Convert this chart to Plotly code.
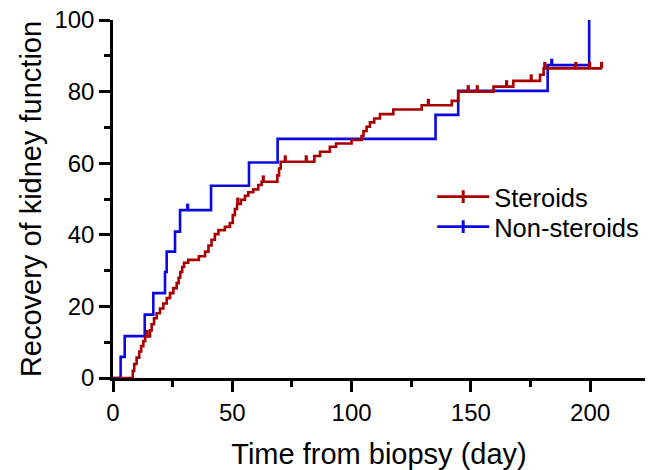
import numpy as np
import plotly.graph_objects as go

# Steroids (red) step times and cumulative recovery (%) after each step
ster_t = [8.3, 8.9, 9.9, 11.0, 11.8, 12.7, 13.5, 15.5, 16.2, 17.2, 18.3, 19.7, 21.1, 22.5,
          23.9, 25.3, 26.7, 27.5, 28.2, 29.0, 29.8, 31.5, 36.0, 38.6, 40.0, 41.3, 42.7,
          44.2, 46.9, 49.0, 50.2, 51.1, 52.0, 53.6, 55.3, 56.7, 58.8, 60.9, 62.3, 68.9,
          69.6, 70.3, 84.4, 86.8, 90.9, 93.5, 100.0, 104.2, 105.0, 106.3, 107.7, 109.5,
          111.9, 117.5, 129.4, 142.0, 144.7, 159.5, 167.8, 179.0, 180.5]
ster_v = [2.0, 3.9, 5.7, 7.4, 8.9, 10.3, 11.6, 13.3, 15.0, 16.7, 18.1, 19.4, 20.8, 22.3,
          23.7, 25.1, 26.5, 28.0, 29.6, 31.0, 32.2, 33.0, 34.0, 35.3, 37.0, 38.6, 40.2,
          41.3, 42.2, 43.3, 45.5, 47.2, 48.6, 49.8, 50.9, 51.9, 52.7, 53.9, 54.8, 56.6,
          58.5, 60.4, 62.0, 63.2, 64.6, 65.5, 66.5, 67.6, 69.0, 70.2, 71.4, 72.5,
          73.7, 75.0, 76.2, 77.4, 80.0, 81.4, 83.0, 84.7, 86.5]
ster_end = 205.0
ster_censor = [14.3, 52.3, 63.0, 72.2, 81.0, 132.2, 148.9, 152.7, 165.0, 175.3, 181.0,
               194.0, 199.8, 204.8]

# Non-steroids (blue)
non_t = [3.2, 4.9, 13.3, 16.9, 21.8, 22.5, 26.0, 28.1, 41.1, 57.0, 69.0, 135.2, 144.7,
         182.2, 199.6]
non_v = [5.9, 11.7, 17.7, 23.7, 29.6, 35.3, 40.9, 46.9, 53.7, 60.2, 66.8, 73.5, 80.2,
         87.4, 100.0]
non_end = 199.6
non_censor = [31.3, 183.9]

x_ticks = [0, 50, 100, 150, 200]
y_ticks = [0, 20, 40, 60, 80, 100]

RED = "#A80000"
BLUE = "#0A0ADC"
FONT = "Arial, Liberation Sans, sans-serif"


def step_xy(t, v, end):
    xs = [0.0] + list(t)
    ys = [0.0] + list(v)
    if end > xs[-1]:
        xs.append(end)
        ys.append(ys[-1])
    return xs, ys


def censor_xy(t, v, cens, h=1.8):
    t = np.asarray(t)
    v = np.asarray(v)
    xs, ys = [], []
    for c in cens:
        i = np.searchsorted(t, c, side="right")
        yv = 0.0 if i == 0 else float(v[i - 1])
        xs += [c, c, None]
        ys += [yv, yv + h, None]
    return xs, ys


fig = go.Figure()

for t, v, end, cens, col in [
    (non_t, non_v, non_end, non_censor, BLUE),
    (ster_t, ster_v, ster_end, ster_censor, RED),
]:
    xs, ys = step_xy(t, v, end)
    fig.add_trace(go.Scatter(x=xs, y=ys, mode="lines", line=dict(color=col, width=2.6, shape="hv"),
                             showlegend=False, cliponaxis=False, hoverinfo="skip"))
    cx, cy = censor_xy(t, v, cens)
    fig.add_trace(go.Scatter(x=cx, y=cy, mode="lines", line=dict(color=col, width=3.2),
                             showlegend=False, cliponaxis=False, hoverinfo="skip"))

for col, name, lg in [(RED, "Steroids", "legend"), (BLUE, "Non-steroids", "legend2")]:
    fig.add_trace(go.Scatter(x=[None], y=[None], mode="lines+markers", name=name, legend=lg,
                             line=dict(color=col, width=2.6),
                             marker=dict(symbol="line-ns", size=9, color=col,
                                         line=dict(color=col, width=3))))

axis_common = dict(
    showline=True, linecolor="black", linewidth=2.5,
    ticks="outside", ticklen=11, tickwidth=2.5, tickcolor="black",
    showgrid=False, zeroline=False, automargin=False,
    tickfont=dict(family=FONT, size=24, color="black"),
)

fig.update_xaxes(range=[0, 223], tickvals=x_ticks, ticktext=[str(v) for v in x_ticks],
                 minor=dict(ticks="outside", dtick=25, tick0=0, ticklen=6, tickwidth=2.5,
                            tickcolor="black"),
                 title=dict(text="Time from biopsy (day)", font=dict(family=FONT, size=29, color="black"),
                            standoff=20),
                 **axis_common)
fig.update_yaxes(range=[0, 100], tickvals=y_ticks, ticktext=[str(v) for v in y_ticks],
                 minor=dict(ticks="outside", dtick=10, tick0=0, ticklen=6, tickwidth=2.5,
                            tickcolor="black"),
                 title=dict(text="Recovery of kidney function", font=dict(family=FONT, size=29, color="black"),
                            standoff=5),
                 **axis_common)

leg_common = dict(xanchor="left", yanchor="middle",
                  font=dict(family=FONT, size=25.5, color="black"),
                  bgcolor="rgba(0,0,0,0)", itemwidth=52)

fig.update_layout(
    width=649, height=470,
    margin=dict(l=113, r=4, t=20, b=92),
    plot_bgcolor="white", paper_bgcolor="white",
    legend=dict(x=0.60, y=(378 - 197) / 358, **leg_common),
    legend2=dict(x=0.60, y=(378 - 227) / 358, **leg_common),
)

fig.write_html("out.html", config={"displayModeBar": False},
               post_script="document.body.style.margin='0px';")
